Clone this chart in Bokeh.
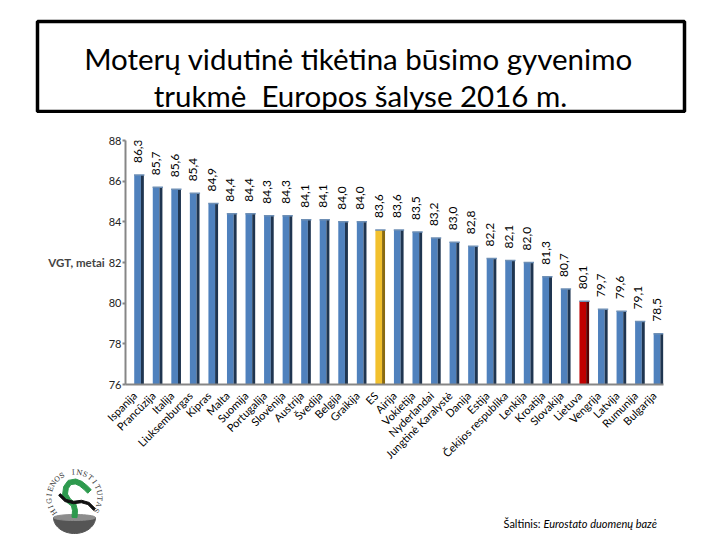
import numpy as np
from bokeh.plotting import figure
from bokeh.layouts import column
from bokeh.models import ColumnDataSource, FactorRange, FixedTicker
from bokeh.transform import dodge
from bokeh.embed import file_html
from bokeh.resources import INLINE
from bokeh.core.properties import value

# ---------------- data ----------------
countries = ["Ispanija", "Prancūzija", "Italija", "Liuksemburgas", "Kipras", "Malta", "Suomija",
             "Portugalija", "Slovėnija", "Austrija", "Švedija", "Belgija", "Graikija", "ES",
             "Airija", "Vokietija", "Nyderlandai", "Jungtinė Karalystė", "Danija", "Estija",
             "Čekijos respublika", "Lenkija", "Kroatija", "Slovakija", "Lietuva", "Vengrija",
             "Latvija", "Rumunija", "Bulgarija"]
life_expectancy = [86.3, 85.7, 85.6, 85.4, 84.9, 84.4, 84.4, 84.3, 84.3, 84.1, 84.1, 84.0, 84.0,
                   83.6, 83.6, 83.5, 83.2, 83.0, 82.8, 82.2, 82.1, 82.0, 81.3, 80.7, 80.1, 79.7,
                   79.6, 79.1, 78.5]
y_ticks = [76, 78, 80, 82, 84, 86, 88]
title_lines = ["Moterų vidutinė tikėtina būsimo gyvenimo", "trukmė\u00a0\u00a0Europos šalyse 2016 m."]
y_label = "VGT, metai"
source_prefix = "Šaltinis:"
source_italic = "Eurostato duomenų bazė"
logo_text = "HIGIENOS INSTITUTAS"

# ---------------- layout (page pixels) ----------------
W = 720
TOTAL_H = 538
TITLE_H = 113
FL, FT, FR, FB = 125, 140, 663, 385
CHART_BOTTOM_BORDER = 83
CHART_H = (FT - TITLE_H) + (FB - FT) + CHART_BOTTOM_BORDER
BOTTOM_TOP = TITLE_H + CHART_H
BOTTOM_H = TOTAL_H - BOTTOM_TOP
FONT = "Lato"


def deco_fig(top, height):
    f = figure(width=W, height=height, x_range=(0, W), y_range=(top + height, top),
               x_axis_location=None, y_axis_location=None, min_border=0,
               toolbar_location=None, output_backend="svg", frame_align=False)
    f.outline_line_color = None
    f.grid.visible = False
    return f


# ---------------- title ----------------
tf = deco_fig(0, TITLE_H)
tf.quad(left=[37], right=[684], top=[21], bottom=[111], fill_alpha=0,
        line_color="black", line_width=3.5)
tf.text(x=[358, 360], y=[58, 95], text=title_lines, text_align="center",
        text_baseline="alphabetic", text_font=value(FONT), text_font_size="29.5px",
        text_color="black")

# ---------------- chart ----------------
front_colors = []
side_colors = []
for c in countries:
    if c == "ES":
        front_colors.append("#F2C12E"); side_colors.append("#8A6A10")
    elif c == "Lietuva":
        front_colors.append("#C00000"); side_colors.append("#5A0000")
    else:
        front_colors.append("#4F81BD"); side_colors.append("#1F3550")

labels = [f"{v:.1f}".replace(".", ",") for v in life_expectancy]
src = ColumnDataSource(dict(country=countries, val=life_expectancy, label=labels,
                            front=front_colors, side=side_colors))

p = figure(width=W, height=CHART_H, x_range=FactorRange(factors=countries),
           y_range=(y_ticks[0], y_ticks[-1]), output_backend="svg", toolbar_location=None,
           min_border_left=FL, min_border_top=FT - TITLE_H,
           min_border_right=W - FR, min_border_bottom=CHART_BOTTOM_BORDER, frame_align=False)
p.outline_line_color = None
p.grid.visible = False

p.vbar(x=dodge("country", 0.15, range=p.x_range), top="val", bottom=y_ticks[0], width=0.36,
       fill_color="front", line_color=None, source=src)
p.vbar(x=dodge("country", 0.41, range=p.x_range), top="val", bottom=y_ticks[0], width=0.16,
       fill_color="side", line_color=None, source=src)
p.vbar(x=dodge("country", 0.24, range=p.x_range), top="val", bottom="val", width=0.56,
       line_color="#6E8FB5", line_width=1.5, source=src)

p.text(x=dodge("country", 0.15, range=p.x_range), y="val", text="label", source=src,
       angle=np.pi / 2, text_align="left", text_baseline="middle", y_offset=-12,
       text_font=value(FONT), text_font_size="12px", text_color="black")

p.xaxis.major_label_orientation = np.pi / 4
p.xaxis.major_tick_line_color = None
p.xaxis.axis_line_color = "#868686"
p.xaxis.axis_line_width = 2
p.xaxis.major_label_text_font = FONT
p.xaxis.major_label_text_font_size = "11px"
p.xaxis.major_label_text_color = "black"
p.xaxis.major_label_standoff = 3

p.yaxis.ticker = FixedTicker(ticks=y_ticks)
p.yaxis.minor_tick_line_color = None
p.yaxis.major_tick_out = 3
p.yaxis.major_tick_in = 0
p.yaxis.major_tick_line_color = "#868686"
p.yaxis.major_tick_line_width = 2
p.yaxis.axis_line_color = "#868686"
p.yaxis.axis_line_width = 2
p.yaxis.major_label_text_font = FONT
p.yaxis.major_label_text_font_size = "11px"
p.yaxis.major_label_text_color = "#222222"
p.yaxis.major_label_standoff = 1
p.yaxis.axis_label = y_label
p.yaxis.axis_label_orientation = "horizontal"
p.yaxis.axis_label_text_font = FONT
p.yaxis.axis_label_text_font_style = "bold"
p.yaxis.axis_label_text_font_size = "11.5px"
p.yaxis.axis_label_standoff = 1

# ---------------- bottom: logo + source ----------------
bf = deco_fig(BOTTOM_TOP, BOTTOM_H)
bf.text(x=[503], y=[523], text=[source_prefix], text_align="left", text_baseline="alphabetic",
        text_font=value(FONT), text_font_size="11px", text_color="black")
bf.text(x=[543], y=[523], text=[source_italic], text_align="left", text_baseline="alphabetic",
        text_font=value(FONT), text_font_style="italic", text_font_size="11px",
        text_color="black")


def stroke_polygon(pts, w):
    pts = np.asarray(pts, float)
    d = np.gradient(pts, axis=0)
    n = np.stack([-d[:, 1], d[:, 0]], axis=1)
    n /= np.linalg.norm(n, axis=1)[:, None]
    left = pts + n * w / 2
    right = pts - n * w / 2
    return np.vstack([left, right[::-1]])


cx, cy, r = 74, 497, 25
t = np.linspace(0, np.pi, 40)
bf.patch(cx + 21 * np.cos(t), 517 + 16 * np.sin(t), color="#555555")
t2 = np.linspace(0, 2 * np.pi, 40)
bf.patch(cx + 21 * np.cos(t2), 517 + 3 * np.sin(t2), color="#8C8C8C")

snake = np.array([(74, 517), (74.5, 510), (73, 504), (68, 500), (64.5, 494), (65.5, 487),
                  (69, 482), (75, 481), (80, 483), (85, 487), (89, 491)])
sp = stroke_polygon(snake, 5)
bf.patch(sp[:, 0], sp[:, 1], color="#2E9A4E")
stripe = np.array([(59, 494), (65, 500), (73, 502), (81, 501), (88, 503), (94, 509)])
st = stroke_polygon(stripe, 2.5)
bf.patch(st[:, 0], st[:, 1], color="#111111")

ang = np.linspace(np.radians(215), np.radians(-30), len(logo_text))
bf.text(x=cx + r * np.cos(ang), y=cy - r * np.sin(ang), text=list(logo_text),
        angle=ang - np.pi / 2, text_align="center", text_baseline="middle",
        text_font=value("DejaVu Serif"), text_font_size="7px", text_color="#333333")

layout = column(tf, p, bf, spacing=0)
open("out.html", "w").write(file_html(layout, INLINE))
